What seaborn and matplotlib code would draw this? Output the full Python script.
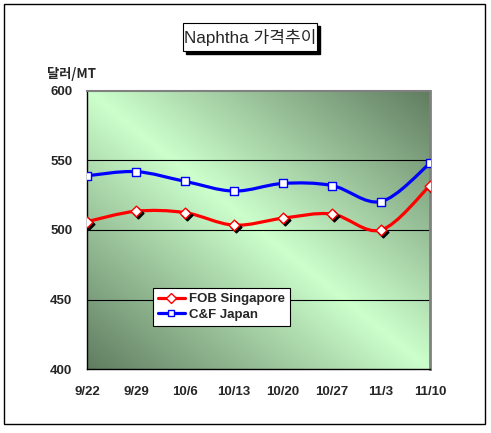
import numpy as np
import pandas as pd
import matplotlib
matplotlib.use("Agg")
import matplotlib.pyplot as plt
import matplotlib.transforms as mtrans
from matplotlib.path import Path
from matplotlib.patches import PathPatch, Rectangle
from matplotlib.lines import Line2D
import seaborn as sns

dates = ["9/22", "9/29", "10/6", "10/13", "10/20", "10/27", "11/3", "11/10"]
fob_singapore = [506, 513.5, 512.5, 503.5, 508.5, 511.5, 500, 532]
cf_japan = [539, 542, 535, 528, 533.5, 532, 520.5, 548]
y_ticks = [400, 450, 500, 550, 600]

sns.set_style("white")
plt.rcParams["font.family"] = ["Liberation Sans", "Noto Sans CJK KR", "DejaVu Sans"]

W, H = 491, 433
fig = plt.figure(figsize=(W / 100, H / 100), dpi=100)
ax = fig.add_axes([87 / W, 1 - 369 / H, 343 / W, 278 / H])

df = pd.DataFrame({"x": np.arange(len(dates)), "fob": fob_singapore, "cf": cf_japan})

# gradient background (light along the top-left / bottom-right diagonal)
gx, gy = np.meshgrid(np.linspace(0, 1, 300), np.linspace(0, 1, 300))
t = np.abs(gx - gy)
light = np.array([204, 255, 204]) / 255
dark = np.array([96, 124, 96]) / 255
img = light[None, None, :] * (1 - t[..., None]) + dark[None, None, :] * t[..., None]
ax.imshow(img, extent=[0, 7, 400, 600], origin="upper", aspect="auto", zorder=0,
          interpolation="bilinear")


def smooth_path(xs, ys):
    pts = np.column_stack([xs, ys]).astype(float)
    n = len(pts)
    verts = [pts[0]]
    codes = [Path.MOVETO]
    for i in range(n - 1):
        p0 = pts[max(i - 1, 0)]
        p1 = pts[i]
        p2 = pts[i + 1]
        p3 = pts[min(i + 2, n - 1)]
        c1 = p1 + (p2 - p0) / 6
        c2 = p2 - (p3 - p1) / 6
        verts += [c1, c2, p2]
        codes += [Path.CURVE4] * 3
    return Path(verts, codes)


for col, color in [("fob", "#ff0000"), ("cf", "#0000ff")]:
    ax.add_patch(PathPatch(smooth_path(df["x"], df[col]), facecolor="none",
                           edgecolor=color, lw=2.3, zorder=3, capstyle="round"))

# marker shadow for the diamonds
shadow = mtrans.offset_copy(ax.transData, fig=fig, x=2, y=-2, units="dots")
ax.scatter(df["x"], df["fob"], marker="D", s=30, color="black", transform=shadow, zorder=4)
sns.scatterplot(data=df, x="x", y="fob", marker="D", s=30, facecolor="white",
                edgecolor="#ff0000", linewidth=1, ax=ax, zorder=5)
sns.scatterplot(data=df, x="x", y="cf", marker="s", s=34, facecolor="white",
                edgecolor="#0000ff", linewidth=1, ax=ax, zorder=5)

ax.set_xlim(0, 7)
ax.set_ylim(400, 600)
ax.set_xticks(range(len(dates)))
ax.set_xticklabels(dates)
ax.set_yticks(y_ticks)
ax.set_xlabel("")
ax.set_ylabel("")
for v in y_ticks[1:-1]:
    ax.axhline(v, color="black", lw=0.8, zorder=1)
ax.tick_params(axis="x", direction="in", length=3, width=0.8, color="black", pad=12,
               labelsize=9.5)
ax.tick_params(axis="y", length=0, pad=10.5, labelsize=9.5)
for lab in ax.get_xticklabels() + ax.get_yticklabels():
    lab.set_fontweight("bold")
for side in ["left", "bottom"]:
    ax.spines[side].set_color("black")
    ax.spines[side].set_linewidth(1)
ax.spines["top"].set_color("#808080")
ax.spines["top"].set_linewidth(1.5)
ax.spines["right"].set_color("#808080")
ax.spines["right"].set_linewidth(2)

handles = [
    Line2D([], [], color="#ff0000", lw=2.3, marker="D", markersize=5,
           markerfacecolor="white", markeredgecolor="#ff0000"),
    Line2D([], [], color="#0000ff", lw=2.3, marker="s", markersize=5,
           markerfacecolor="white", markeredgecolor="#0000ff"),
]
leg = ax.legend(handles, ["FOB Singapore", "C&F Japan"], loc="lower left",
                bbox_to_anchor=((153 - 87) / 343, (369 - 326) / 278), borderaxespad=0,
                fancybox=False, framealpha=1, edgecolor="black", handlelength=2.0,
                handletextpad=0.3, borderpad=0.4, labelspacing=0.25,
                prop={"size": 9.5, "weight": "bold"})
leg.get_frame().set_linewidth(0.8)

# y axis unit
fig.text(47 / W, 1 - 74 / H, "달러/MT", fontsize=9.5, fontweight="bold",
         va="center", ha="left", family=["Noto Sans CJK KR", "DejaVu Sans"])

# title box with shadow
bx0, by0, bx1, by1 = 183, 23, 317, 51
fig.patches.append(Rectangle(((bx0 + 3) / W, 1 - (by1 + 3) / H), (bx1 - bx0) / W,
                             (by1 - by0) / H, transform=fig.transFigure,
                             facecolor="black", edgecolor="black", zorder=1))
fig.patches.append(Rectangle((bx0 / W, 1 - by1 / H), (bx1 - bx0) / W, (by1 - by0) / H,
                             transform=fig.transFigure, facecolor="white",
                             edgecolor="black", lw=0.8, zorder=2))
fig.text((bx0 + bx1) / 2 / W, 1 - (by0 + by1) / 2 / H, "Naphtha 가격추이", fontsize=12.3,
         ha="center", va="center", zorder=3,
         family=["Liberation Sans", "Noto Sans CJK KR", "DejaVu Sans"])

# outer frame
fig.patches.append(Rectangle((4 / W, 1 - 424 / H), 481 / W, 420 / H,
                             transform=fig.transFigure, facecolor="none",
                             edgecolor="black", lw=1))

fig.savefig("out.png", dpi=100)
